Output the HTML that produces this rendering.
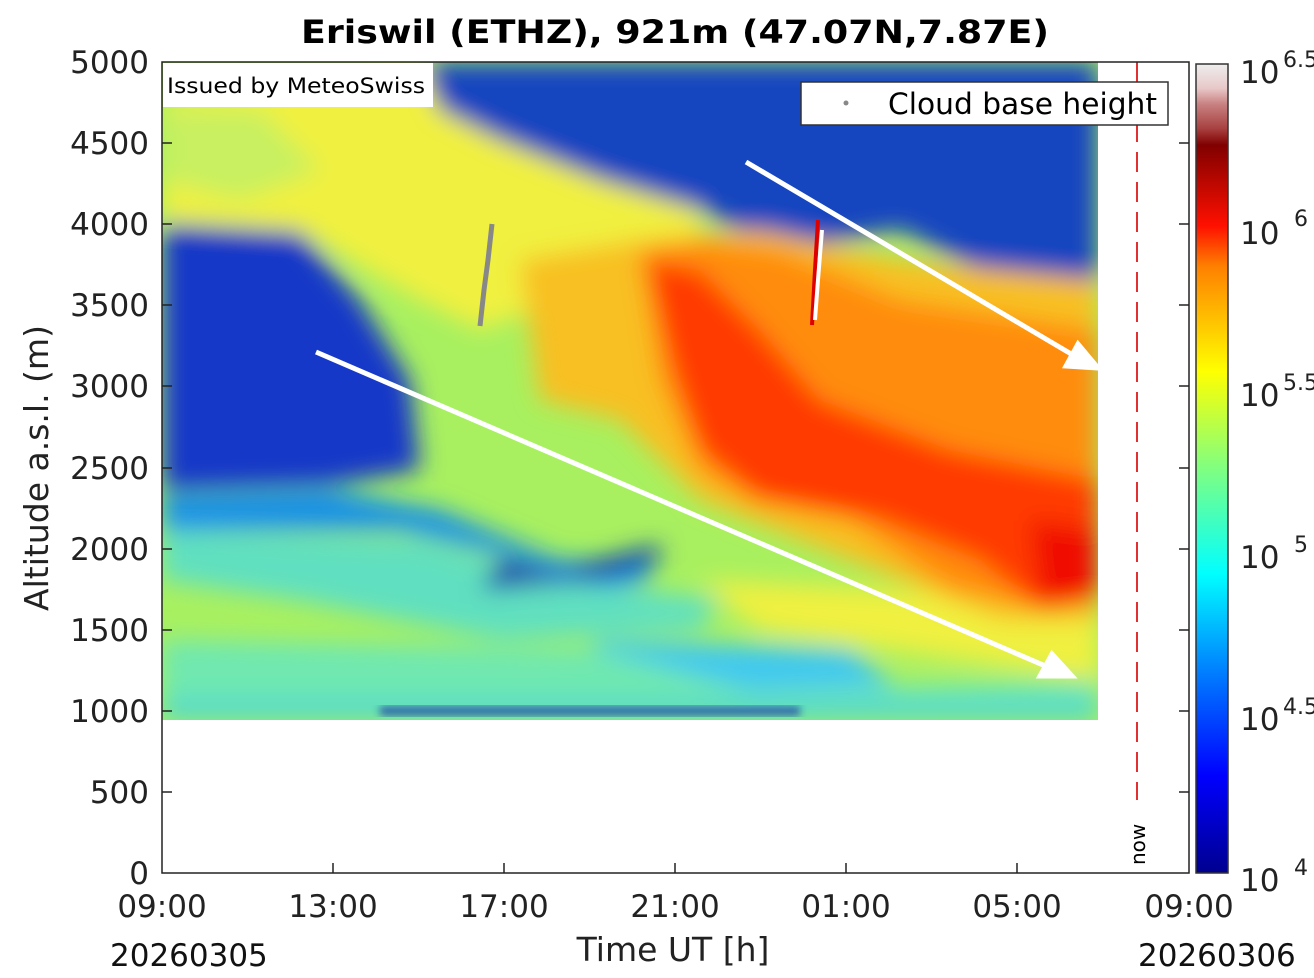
<!DOCTYPE html>
<html><head><style>
body{margin:0;background:#fff;}
svg{display:block;font-family:"DejaVu Sans","Liberation Sans",sans-serif;}
</style></head><body>
<svg width="1314" height="978" viewBox="0 0 1314 978" xmlns="http://www.w3.org/2000/svg">
<defs>
<filter id="b" x="-10%" y="-10%" width="120%" height="120%"><feGaussianBlur stdDeviation="12"/></filter>
<filter id="b2"><feGaussianBlur stdDeviation="4"/></filter>
<clipPath id="c"><rect x="162" y="62" width="936" height="658"/></clipPath>
<linearGradient id="cb" x1="0" y1="1" x2="0" y2="0">
<stop offset="0" stop-color="#00008f"/>
<stop offset="0.12" stop-color="#0000ff"/>
<stop offset="0.25" stop-color="#0080ff"/>
<stop offset="0.37" stop-color="#00ffff"/>
<stop offset="0.5" stop-color="#80ff80"/>
<stop offset="0.62" stop-color="#ffff00"/>
<stop offset="0.75" stop-color="#ff8000"/>
<stop offset="0.8" stop-color="#ff1000"/>
<stop offset="0.9" stop-color="#800000"/>
<stop offset="0.92" stop-color="#a84040"/>
<stop offset="0.95" stop-color="#c88080"/>
<stop offset="0.97" stop-color="#e8c8c8"/>
<stop offset="1" stop-color="#eeeeee"/>
</linearGradient>
</defs>
<text x="675" y="43" font-size="32" font-weight="bold" text-anchor="middle" textLength="748" lengthAdjust="spacingAndGlyphs">Eriswil (ETHZ), 921m (47.07N,7.87E)</text>
<g clip-path="url(#c)">
<rect x="162" y="62" width="936" height="658" fill="#a8f060"/>
<g filter="url(#b)">
<polygon points="162,100 430,62 700,62 700,260 560,300 480,330 420,300 300,230 162,220" fill="#f0f040"/>
<polygon points="162,110 260,110 320,170 240,200 162,180" fill="#c8f060"/>
<polygon points="420,62 1098,62 1098,330 1000,280 900,230 780,250 700,210 600,180 500,140 440,110" fill="#1444c0"/>
<polygon points="162,225 300,232 360,300 410,380 420,470 330,485 162,490" fill="#1838c8"/>
<polygon points="162,495 330,490 440,510 560,560 650,560 650,580 600,590 520,560 400,530 162,530" fill="#1890e8"/>
<polygon points="162,530 420,540 560,580 720,600 700,630 500,640 300,600 162,580" fill="#60e0c0"/>
<polygon points="480,590 600,580 660,560 660,545 600,560 560,575 500,560" fill="#1030b0"/>
<polygon points="600,640 850,650 900,690 700,700 560,680" fill="#40c8f0"/>
<polygon points="162,640 600,650 750,690 1098,680 1098,700 162,700" fill="#70e8b0"/>
<polygon points="700,580 900,590 1098,610 1098,680 900,650 760,630" fill="#f0f040"/>
<polygon points="520,260 640,240 760,230 900,260 1098,280 1098,620 1000,620 900,580 800,540 700,500 620,420 540,400" fill="#f8c020"/>
<polygon points="640,250 700,240 780,250 900,300 1098,330 1098,600 1050,610 950,590 850,520 750,500 700,470 660,380" fill="#ff8c10"/>
<polygon points="645,260 700,270 760,330 820,400 950,450 1098,480 1098,600 1040,610 980,560 880,520 760,500 700,450 670,360" fill="#ff3a00"/>
<polygon points="1030,520 1098,530 1098,600 1040,600" fill="#f01000"/>
<polygon points="162,700 1098,700 1098,720 162,720" fill="#50d8d0"/>
</g>
<rect x="380" y="706" width="420" height="10" fill="#1020a0" opacity="0.6" filter="url(#b2)"/>
</g>
<rect x="163" y="63" width="270" height="44" fill="#fff"/>
<text x="167" y="93" font-size="21" textLength="258" lengthAdjust="spacingAndGlyphs">Issued by MeteoSwiss</text>
<polyline points="492,224 488,260 484,290 480,326" fill="none" stroke="#888" stroke-width="5"/>
<polyline points="818,220 815,270 812,325" fill="none" stroke="#d00" stroke-width="4"/>
<polyline points="822,230 818,280 815,320" fill="none" stroke="#fff" stroke-width="4"/>
<g stroke="#fff" stroke-width="5" fill="#fff">
<line x1="316" y1="352" x2="1050" y2="668"/>
<polygon points="1072,676 1040,676 1052,654"/>
<line x1="746" y1="162" x2="1078" y2="358"/>
<polygon points="1098,368 1066,366 1078,344"/>
</g>
<line x1="1137" y1="62" x2="1137" y2="800" stroke="#e03030" stroke-width="2" stroke-dasharray="20,10"/>
<text transform="translate(1145,865) rotate(-90)" font-size="20">now</text>
<rect x="801" y="82" width="367" height="43" fill="#fff" stroke="#333" stroke-width="1.5"/>
<circle cx="846" cy="103" r="2.5" fill="#888"/>
<text x="888" y="114" font-size="29" textLength="269" lengthAdjust="spacingAndGlyphs">Cloud base height</text>
<rect x="162" y="62" width="1027" height="811" fill="none" stroke="#222" stroke-width="1.5"/>
<g stroke="#222" stroke-width="1.5">
<line x1="162" y1="792" x2="172" y2="792"/><line x1="162" y1="711" x2="172" y2="711"/><line x1="162" y1="630" x2="172" y2="630"/><line x1="162" y1="549" x2="172" y2="549"/><line x1="162" y1="468" x2="172" y2="468"/><line x1="162" y1="386" x2="172" y2="386"/><line x1="162" y1="305" x2="172" y2="305"/><line x1="162" y1="224" x2="172" y2="224"/><line x1="162" y1="143" x2="172" y2="143"/>
<line x1="1179" y1="792" x2="1189" y2="792"/><line x1="1179" y1="711" x2="1189" y2="711"/><line x1="1179" y1="630" x2="1189" y2="630"/><line x1="1179" y1="549" x2="1189" y2="549"/><line x1="1179" y1="468" x2="1189" y2="468"/><line x1="1179" y1="386" x2="1189" y2="386"/><line x1="1179" y1="305" x2="1189" y2="305"/><line x1="1179" y1="224" x2="1189" y2="224"/><line x1="1179" y1="143" x2="1189" y2="143"/>
<line x1="333" y1="873" x2="333" y2="863"/><line x1="504" y1="873" x2="504" y2="863"/><line x1="675" y1="873" x2="675" y2="863"/><line x1="846" y1="873" x2="846" y2="863"/><line x1="1017" y1="873" x2="1017" y2="863"/>
</g>
<g font-size="31" fill="#222" text-anchor="end">
<text x="149" y="884">0</text><text x="149" y="803">500</text><text x="149" y="722">1000</text><text x="149" y="641">1500</text><text x="149" y="560">2000</text><text x="149" y="479">2500</text><text x="149" y="397">3000</text><text x="149" y="316">3500</text><text x="149" y="235">4000</text><text x="149" y="154">4500</text><text x="149" y="73">5000</text>
</g>
<g font-size="31" fill="#222" text-anchor="middle">
<text x="162" y="917">09:00</text><text x="333" y="917">13:00</text><text x="504" y="917">17:00</text><text x="675" y="917">21:00</text><text x="846" y="917">01:00</text><text x="1017" y="917">05:00</text><text x="1189" y="917">09:00</text>
<text x="673" y="961" font-size="33">Time UT [h]</text>
</g>
<text x="110" y="966" font-size="31" fill="#111">20260305</text>
<text x="1138" y="966" font-size="31" fill="#111">20260306</text>
<text transform="translate(48,468) rotate(-90)" font-size="33" text-anchor="middle" fill="#222">Altitude a.s.l. (m)</text>
<rect x="1196" y="64" width="32" height="809" fill="url(#cb)" stroke="#333" stroke-width="1.5"/>
<g font-size="31" fill="#222">
<text x="1240" y="83">10</text><text x="1283" y="67" font-size="22">6.5</text>
<text x="1240" y="244">10</text><text x="1294" y="226" font-size="22">6</text>
<text x="1240" y="406">10</text><text x="1283" y="390" font-size="22">5.5</text>
<text x="1240" y="568">10</text><text x="1294" y="552" font-size="22">5</text>
<text x="1240" y="730">10</text><text x="1283" y="714" font-size="22">4.5</text>
<text x="1240" y="891">10</text><text x="1294" y="875" font-size="22">4</text>
</g>
</svg>
</body></html>
